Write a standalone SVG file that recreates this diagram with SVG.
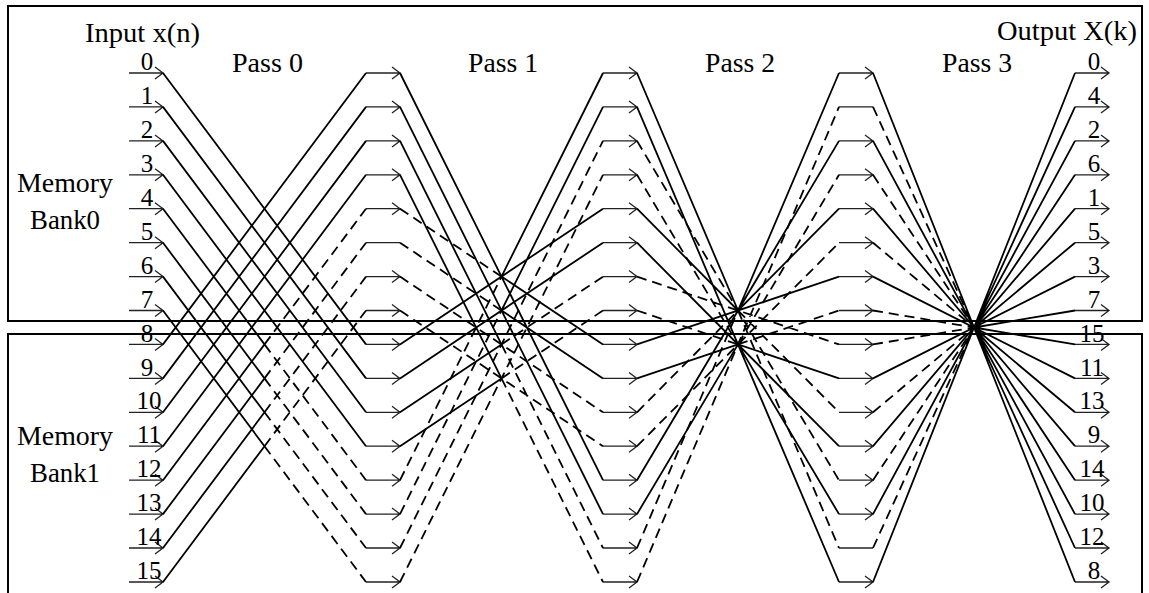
<svg xmlns="http://www.w3.org/2000/svg" xmlns:xlink="http://www.w3.org/1999/xlink" width="1149" height="593" viewBox="0 0 1149 593">
<style>
.frame{fill:none;stroke:#000;stroke-width:2}
.stub{fill:none;stroke:#222;stroke-width:1.3}
.s{fill:none;stroke:#000;stroke-width:1.8}
.d{fill:none;stroke:#000;stroke-width:1.8;stroke-dasharray:10 6}
text{font-family:"Liberation Serif","Times New Roman",serif;fill:#000}
.w{font-size:27px}
.n{font-size:25px;text-anchor:middle}
</style>
<defs>
<path id="arr" d="M-34,0H0M-8,-6L0,0L-8,6"/>
<path id="bar" d="M-34,0H0"/>
</defs>
<rect width="1149" height="593" fill="#fff"/>
<g id="frame">
<rect class="frame" x="8" y="6" width="1134" height="315"/>
<rect class="frame" x="8" y="334" width="1134" height="280"/>
</g>
<g id="titles">
<text class="w" x="85" y="42" textLength="115" lengthAdjust="spacingAndGlyphs">Input x(n)</text>
<text class="w" x="997" y="40" textLength="140" lengthAdjust="spacingAndGlyphs">Output X(k)</text>
<text class="w" x="232" y="72" textLength="71" lengthAdjust="spacingAndGlyphs">Pass 0</text>
<text class="w" x="468" y="72" textLength="70" lengthAdjust="spacingAndGlyphs">Pass 1</text>
<text class="w" x="705" y="72" textLength="70" lengthAdjust="spacingAndGlyphs">Pass 2</text>
<text class="w" x="942" y="72" textLength="70" lengthAdjust="spacingAndGlyphs">Pass 3</text>
</g>
<g id="bank0">
<text class="w" x="17" y="192" textLength="96" lengthAdjust="spacingAndGlyphs">Memory</text>
<text class="w" x="30" y="229" textLength="70" lengthAdjust="spacingAndGlyphs">Bank0</text>
</g>
<g id="bank1">
<text class="w" x="17" y="445" textLength="96" lengthAdjust="spacingAndGlyphs">Memory</text>
<text class="w" x="30" y="482" textLength="70" lengthAdjust="spacingAndGlyphs">Bank1</text>
</g>
<g id="inputs" class="stub">
<use href="#arr" x="163" y="73"/><use href="#arr" x="163" y="106.9"/><use href="#arr" x="163" y="140.9"/><use href="#arr" x="163" y="174.8"/>
<use href="#arr" x="163" y="208.7"/><use href="#arr" x="163" y="242.7"/><use href="#arr" x="163" y="276.6"/><use href="#arr" x="163" y="310.5"/>
<use href="#arr" x="163" y="344.4"/><use href="#arr" x="163" y="378.4"/><use href="#arr" x="163" y="412.3"/><use href="#arr" x="163" y="446.2"/>
<use href="#arr" x="163" y="480.2"/><use href="#arr" x="163" y="514.1"/><use href="#arr" x="163" y="548"/><use href="#arr" x="163" y="582"/>
</g>
<g id="input-labels">
<text class="n" x="147" y="70">0</text><text class="n" x="147" y="104">1</text><text class="n" x="147" y="138">2</text><text class="n" x="147" y="172">3</text>
<text class="n" x="147" y="206">4</text><text class="n" x="147" y="240">5</text><text class="n" x="147" y="274">6</text><text class="n" x="147" y="308">7</text>
<text class="n" x="147" y="342">8</text><text class="n" x="147" y="376">9</text><text class="n" x="149" y="409">10</text><text class="n" x="149" y="443">11</text>
<text class="n" x="149" y="477">12</text><text class="n" x="149" y="511">13</text><text class="n" x="149" y="545">14</text><text class="n" x="149" y="579">15</text>
</g>
<g id="pass0-out" class="stub">
<use href="#arr" x="400" y="73"/><use href="#arr" x="400" y="106.9"/><use href="#arr" x="400" y="140.9"/><use href="#arr" x="400" y="174.8"/>
<use href="#arr" x="400" y="208.7"/><use href="#bar" x="400" y="242.7"/><use href="#arr" x="400" y="276.6"/><use href="#arr" x="400" y="310.5"/>
<use href="#arr" x="400" y="344.4"/><use href="#arr" x="400" y="378.4"/><use href="#arr" x="400" y="412.3"/><use href="#arr" x="400" y="446.2"/>
<use href="#arr" x="400" y="480.2"/><use href="#arr" x="400" y="514.1"/><use href="#arr" x="400" y="548"/><use href="#arr" x="400" y="582"/>
</g>
<g id="pass1-out" class="stub">
<use href="#arr" x="637" y="73"/><use href="#arr" x="637" y="106.9"/><use href="#arr" x="637" y="140.9"/><use href="#arr" x="637" y="174.8"/>
<use href="#arr" x="637" y="208.7"/><use href="#arr" x="637" y="242.7"/><use href="#arr" x="637" y="276.6"/><use href="#arr" x="637" y="310.5"/>
<use href="#arr" x="637" y="344.4"/><use href="#arr" x="637" y="378.4"/><use href="#arr" x="637" y="412.3"/><use href="#arr" x="637" y="446.2"/>
<use href="#arr" x="637" y="480.2"/><use href="#arr" x="637" y="514.1"/><use href="#arr" x="637" y="548"/><use href="#arr" x="637" y="582"/>
</g>
<g id="pass2-out" class="stub">
<use href="#arr" x="873" y="73"/><use href="#bar" x="873" y="106.9"/><use href="#arr" x="873" y="140.9"/><use href="#arr" x="873" y="174.8"/>
<use href="#arr" x="873" y="208.7"/><use href="#arr" x="873" y="242.7"/><use href="#arr" x="873" y="276.6"/><use href="#arr" x="873" y="310.5"/>
<use href="#arr" x="873" y="344.4"/><use href="#arr" x="873" y="378.4"/><use href="#arr" x="873" y="412.3"/><use href="#arr" x="873" y="446.2"/>
<use href="#arr" x="873" y="480.2"/><use href="#arr" x="873" y="514.1"/><use href="#bar" x="873" y="548"/><use href="#arr" x="873" y="582"/>
</g>
<g id="outputs" class="stub">
<use href="#arr" x="1109" y="73"/><use href="#arr" x="1109" y="106.9"/><use href="#arr" x="1109" y="140.9"/><use href="#arr" x="1109" y="174.8"/>
<use href="#arr" x="1109" y="208.7"/><use href="#arr" x="1109" y="242.7"/><use href="#arr" x="1109" y="276.6"/><use href="#arr" x="1109" y="310.5"/>
<use href="#arr" x="1109" y="344.4"/><use href="#arr" x="1109" y="378.4"/><use href="#arr" x="1109" y="412.3"/><use href="#arr" x="1109" y="446.2"/>
<use href="#arr" x="1109" y="480.2"/><use href="#arr" x="1109" y="514.1"/><use href="#arr" x="1109" y="548"/><use href="#arr" x="1109" y="582"/>
</g>
<g id="output-labels">
<text class="n" x="1094" y="70">0</text><text class="n" x="1094" y="104">4</text><text class="n" x="1094" y="138">2</text><text class="n" x="1094" y="172">6</text>
<text class="n" x="1094" y="206">1</text><text class="n" x="1094" y="240">5</text><text class="n" x="1094" y="274">3</text><text class="n" x="1094" y="308">7</text>
<text class="n" x="1092" y="342">15</text><text class="n" x="1092" y="376">11</text><text class="n" x="1092" y="409">13</text><text class="n" x="1094" y="443">9</text>
<text class="n" x="1092" y="477">14</text><text class="n" x="1092" y="511">10</text><text class="n" x="1092" y="545">12</text><text class="n" x="1094" y="579">8</text>
</g>
<g id="connectors">
<g id="pass0">
<path class="s" d="M163,73L366,344.4M163,106.9L366,378.4M163,140.9L366,412.3M163,174.8L366,446.2M163,344.4L366,73M163,378.4L366,106.9M163,412.3L366,140.9M163,446.2L366,174.8M163,208.7L264.5,344.4M163,242.7L264.5,378.4M163,276.6L264.5,412.3M163,310.5L264.5,446.2M163,480.2L264.5,344.4M163,514.1L264.5,378.4M163,548L264.5,412.3M163,582L264.5,446.2"/>
<path class="d" d="M264.5,344.4L366,480.2M264.5,378.4L366,514.1M264.5,412.3L366,548M264.5,446.2L366,582M264.5,344.4L366,208.7M264.5,378.4L366,242.7M264.5,412.3L366,276.6M264.5,446.2L366,310.5"/>
</g>
<g id="pass1">
<path class="s" d="M400,73L603,480.2M501.5,276.6L603,73M501.5,276.6L603,344.4M400,344.4L603,208.7M400,106.9L603,514.1M501.5,310.5L603,106.9M501.5,310.5L603,378.4M400,378.4L603,242.7M400,140.9L501.5,344.4M400,412.3L501.5,344.4M400,174.8L501.5,378.4M400,446.2L501.5,378.4"/>
<path class="d" d="M400,480.2L501.5,276.6M400,208.7L501.5,276.6M400,514.1L501.5,310.5M400,242.7L501.5,310.5M501.5,344.4L603,548M400,548L603,140.9M400,276.6L603,412.3M501.5,344.4L603,276.6M501.5,378.4L603,582M400,582L603,174.8M400,310.5L603,446.2M501.5,378.4L603,310.5"/>
</g>
<g id="pass2">
<path class="s" d="M637,73L738,310.5M738,310.5L839,73M637,480.2L839,140.9M637,208.7L738,310.5M738,310.5L839,208.7M637,344.4L839,276.6M637,106.9L839,582M738,344.4L839,514.1M637,514.1L738,344.4M637,242.7L839,446.2M738,344.4L839,378.4M637,378.4L738,344.4"/>
<path class="d" d="M738,310.5L839,548M637,548L738,310.5M637,140.9L839,480.2M738,310.5L839,412.3M637,412.3L738,310.5M637,276.6L839,344.4M637,582L839,106.9M637,174.8L738,344.4M738,344.4L839,174.8M637,446.2L839,242.7M637,310.5L738,344.4M738,344.4L839,310.5"/>
</g>
<g id="pass3">
<path class="s" d="M873,73L1075,582M873,140.9L1075,514.1M873,208.7L1075,446.2M873,276.6L1075,378.4M873,378.4L1075,276.6M873,446.2L1075,208.7M873,514.1L1075,140.9M873,582L1075,73M974,327.5L1075,548M974,327.5L1075,480.2M974,327.5L1075,412.3M974,327.5L1075,344.4M974,327.5L1075,310.5M974,327.5L1075,242.7M974,327.5L1075,174.8M974,327.5L1075,106.9"/>
<path class="d" d="M873,106.9L974,327.5M873,174.8L974,327.5M873,242.7L974,327.5M873,310.5L974,327.5M873,344.4L974,327.5M873,412.3L974,327.5M873,480.2L974,327.5M873,548L974,327.5"/>
</g>
</g>
</svg>
